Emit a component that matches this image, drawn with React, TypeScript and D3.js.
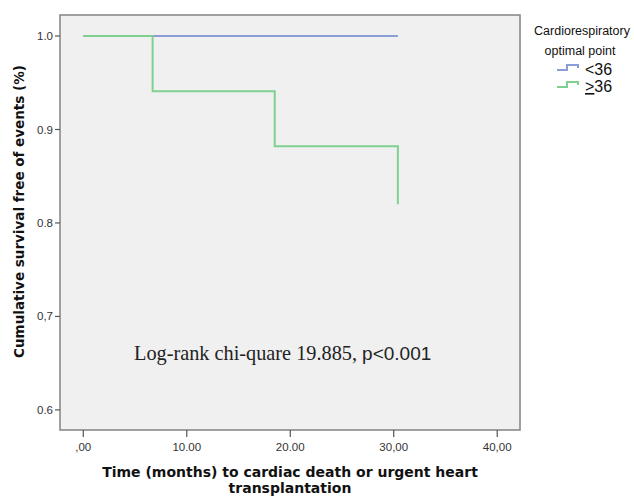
import * as d3 from 'd3';
import React from 'react';

// Kaplan-Meier steps
const blueTimes = [0, 30.4];
const blueSurv = [1.0, 1.0];
const greenTimes = [0, 6.7, 18.5, 30.4];
const greenSurv = [1.0, 0.941, 0.882, 0.82];

const yTicks = [0.6, 0.7, 0.8, 0.9, 1.0];
const yTickLabels = ['0.6', '0,7', '0.8', '0.9', '1.0'];
const xTicks = [0, 10, 20, 30, 40];
const xTickLabels = [',00', '10.00', '20.00', '30,00', '40,00'];

const seriesLabels = ['<36', '>36'];
const BLUE = '#8a9dd6';
const GREEN = '#80d18f';

export default function App() {
  const left = 60, right = 520, top = 15, bottom = 430;

  const x = d3.scaleLinear().domain([-2.25, 42.2]).range([left, right]);
  const y = d3.scaleLinear().domain([0.5785, 1.0225]).range([bottom, top]);

  const step = d3
    .line<[number, number]>()
    .x(d => x(d[0]))
    .y(d => y(d[1]))
    .curve(d3.curveStepAfter);

  const bluePts: [number, number][] = blueTimes.map((t, i) => [t, blueSurv[i]]);
  const greenPts: [number, number][] = greenTimes.map((t, i) => [t, greenSurv[i]]);

  const font = '"Liberation Sans", Arial, sans-serif';
  const titleFont = '"DejaVu Sans", Verdana, sans-serif';

  return (
    <svg width={634} height={496} style={{ position: 'absolute', left: 0, top: 0 }}>
      <rect x={0} y={0} width={634} height={496} fill="#fff" />
      <rect x={left} y={top} width={right - left} height={bottom - top} fill="#f0f0f0" stroke="#8a8a8a" strokeWidth={1.6} />

      {/* y axis ticks */}
      {yTicks.map((t, i) => (
        <g key={'y' + i}>
          <line x1={left - 5} x2={left} y1={y(t)} y2={y(t)} stroke="#555" strokeWidth={1.2} />
          <text x={left - 7} y={y(t)} dy="0.35em" textAnchor="end" fontFamily={font} fontSize={11.5} fill="#333">
            {yTickLabels[i]}
          </text>
        </g>
      ))}

      {/* x axis ticks */}
      {xTicks.map((t, i) => (
        <g key={'x' + i}>
          <line x1={x(t)} x2={x(t)} y1={bottom} y2={bottom + 7} stroke="#555" strokeWidth={1.2} />
          <text x={x(t)} y={bottom + 21} textAnchor="middle" fontFamily={font} fontSize={11.5} fill="#333">
            {xTickLabels[i]}
          </text>
        </g>
      ))}

      {/* curves */}
      <path d={step(bluePts) ?? ''} fill="none" stroke={BLUE} strokeWidth={2} />
      <path d={step(greenPts) ?? ''} fill="none" stroke={GREEN} strokeWidth={2} />

      {/* annotation */}
      <text x={134} y={360} fontSize={20.3} fill="#222">
        <tspan fontFamily='"Liberation Serif", "Times New Roman", serif'>Log-rank chi-quare 19.885, </tspan>
        <tspan fontFamily={font} fontSize={19}>p&lt;0.001</tspan>
      </text>

      {/* axis titles */}
      <text
        transform={`translate(24,${(top + bottom) / 2 - 11}) rotate(-90)`}
        textAnchor="middle"
        fontFamily={titleFont}
        fontWeight="bold"
        fontSize={13.5}
        fill="#111"
      >
        Cumulative survival free of events (%)
      </text>
      <text x={290} y={477} textAnchor="middle" fontFamily={titleFont} fontWeight="bold" fontSize={14} fill="#111">
        Time (months) to cardiac death or urgent heart
      </text>
      <text x={290} y={493} textAnchor="middle" fontFamily={titleFont} fontWeight="bold" fontSize={14} fill="#111">
        transplantation
      </text>

      {/* legend */}
      <text x={582} y={35} textAnchor="middle" fontFamily={font} fontSize={12.5} fill="#111">
        Cardiorespiratory
      </text>
      <text x={580} y={55} textAnchor="middle" fontFamily={font} fontSize={12.5} fill="#111">
        optimal point
      </text>
      {seriesLabels.map((lab, i) => {
        const ly = 70 + i * 17;
        const color = i === 0 ? BLUE : GREEN;
        return (
          <g key={'l' + i}>
            <path
              d={`M557,${ly} H567 V${ly - 5} H578 V${ly - 2}`}
              fill="none"
              stroke={color}
              strokeWidth={2}
            />
            <text x={585} y={ly + 5} fontFamily={font} fontSize={16} fill="#111">
              {i === 1 ? (
                <>
                  <tspan textDecoration="underline">&gt;</tspan>36
                </>
              ) : (
                lab
              )}
            </text>
          </g>
        );
      })}
    </svg>
  );
}
